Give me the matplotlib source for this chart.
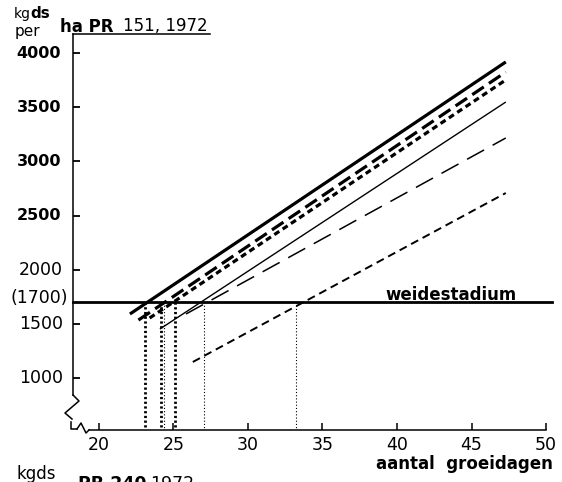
import matplotlib
matplotlib.use('Agg')
import matplotlib.pyplot as plt
from matplotlib.transforms import Affine2D, blended_transform_factory, offset_copy
from matplotlib.lines import Line2D

plt.rcParams['font.family'] = ['DejaVu Sans']
plt.rcParams['lines.scale_dashes'] = False

# ---------------- data ----------------
start_days = [22.08, 22.65, 23.4, 24.09, 25.84, 26.3]
start_kg = [1591, 1535, 1554, 1452, 1591, 1148]
end_days = [47.3, 47.3, 47.3, 47.3, 47.3, 47.3]
end_kg = [3918, 3825, 3752, 3548, 3216, 2708]

threshold_kg = 1700
drop_days_heavy = [23.1, 24.15, 25.1]
drop_days_light = [24.35, 27.05, 33.2]

xticks = [20, 25, 30, 35, 40, 45, 50]
yticks_bold = [2500, 3000, 3500, 4000]
yticks_regular = [1000, 1500, 2000]

x_range = (18.26, 50.40)
y_range = (520, 4176)

# ---------------- styles ----------------
styles = [
    dict(lw=2.3, ls='-'),
    dict(lw=2.3, ls=(0, (10, 4.5))),
    dict(lw=2.3, ls=(0, (4.3, 2.9))),
    dict(lw=1.0, ls='-'),
    dict(lw=1.1, ls=(0, (14, 7))),
    dict(lw=1.4, ls=(0, (5.8, 3.6))),
]

W, H = 562, 482
fig = plt.figure(figsize=(W / 100, H / 100), dpi=100)
ax = fig.add_axes([73 / W, 1 - 430 / H, 479 / W, 396 / H])
ax.set_xlim(*x_range)
ax.set_ylim(*y_range)

# pixel transform (top-left origin) for decorations / free text
px = Affine2D().scale(1 / W, -1 / H).translate(0, 1) + fig.transFigure

for s in ['left', 'top', 'bottom']:
    ax.spines[s].set_linewidth(1.1)
ax.spines['right'].set_visible(False)
ax.spines['left'].set_bounds(843, y_range[1])
ax.spines['top'].set_bounds(x_range[0], 27.45)
ax.spines['bottom'].set_bounds(19.33, 50)

ax.set_xticks(xticks)
ax.set_xticklabels([str(t) for t in xticks], fontsize=12.5)
ax.tick_params(axis='x', direction='in', length=5, width=1.1, pad=4)
ax.set_yticks(yticks_regular + yticks_bold)
ax.tick_params(axis='y', direction='in', length=5, width=1.3, labelleft=False)

ytrans = blended_transform_factory(ax.transAxes, ax.transData)
for v in yticks_bold:
    ax.text(-12 / 479, v, str(v), transform=ytrans, ha='right', va='center',
            fontsize=11.5, fontweight='bold')
for v in yticks_regular:
    ax.text(-10 / 479, v, str(v), transform=ytrans, ha='right', va='center',
            fontsize=12.5)
ax.text(-5 / 479, threshold_kg, '(%d)' % threshold_kg,
        transform=offset_copy(ytrans, fig=fig, x=0, y=3, units='points'),
        ha='right', va='center', fontsize=12.5)

# threshold line
ax.axhline(threshold_kg, color='black', lw=2.0, clip_on=False)

# growth lines
for sd, sk, ed, ek, st in zip(start_days, start_kg, end_days, end_kg, styles):
    ax.plot([sd, ed], [sk, ek], color='black', solid_capstyle='butt',
            dash_capstyle='butt', **st)

# vertical drops
for d in drop_days_heavy:
    ax.plot([d, d], [threshold_kg, y_range[0]], color='black', lw=2.0,
            ls=(0, (1.6, 1.8)), dash_capstyle='butt')
for d in drop_days_light:
    ax.plot([d, d], [threshold_kg, y_range[0]], color='black', lw=0.8,
            ls=(0, (0.8, 1.5)), dash_capstyle='butt')

# axis break decorations
brk_y = [(73, 395), (79, 401), (65, 413), (72, 419)]
brk_l = [(71, 422), (71, 429), (77, 429)]
brk_x = [(77, 429), (81, 423), (86, 433), (89, 430)]
for pts in (brk_y, brk_l, brk_x):
    xs, ys = zip(*pts)
    fig.add_artist(Line2D(xs, ys, transform=px, color='black', lw=1.1))

# texts
fig.text(517, 300, 'weidestadium', transform=px, ha='right', va='baseline',
         fontsize=12, fontweight='bold')
fig.text(553, 469, 'aantal  groeidagen', transform=px, ha='right', va='baseline',
         fontsize=12, fontweight='bold')

fig.text(14, 18, 'kg', transform=px, va='baseline', fontsize=10)
fig.text(30, 18, 'ds', transform=px, va='baseline', fontsize=11, fontweight='bold')
fig.text(15, 36, 'per', transform=px, va='baseline', fontsize=11)
fig.text(60, 32, 'ha PR', transform=px, va='baseline', fontsize=12, fontweight='bold')
fig.text(123, 31, '151, 1972', transform=px, va='baseline', fontsize=12)

fig.text(16, 479, 'kgds', transform=px, va='baseline', fontsize=12)
fig.text(78, 489, 'PR 240', transform=px, va='baseline', fontsize=12.5, fontweight='bold')
fig.text(150, 489, '1972', transform=px, va='baseline', fontsize=12.5)

fig.savefig('out.png', dpi=100)
